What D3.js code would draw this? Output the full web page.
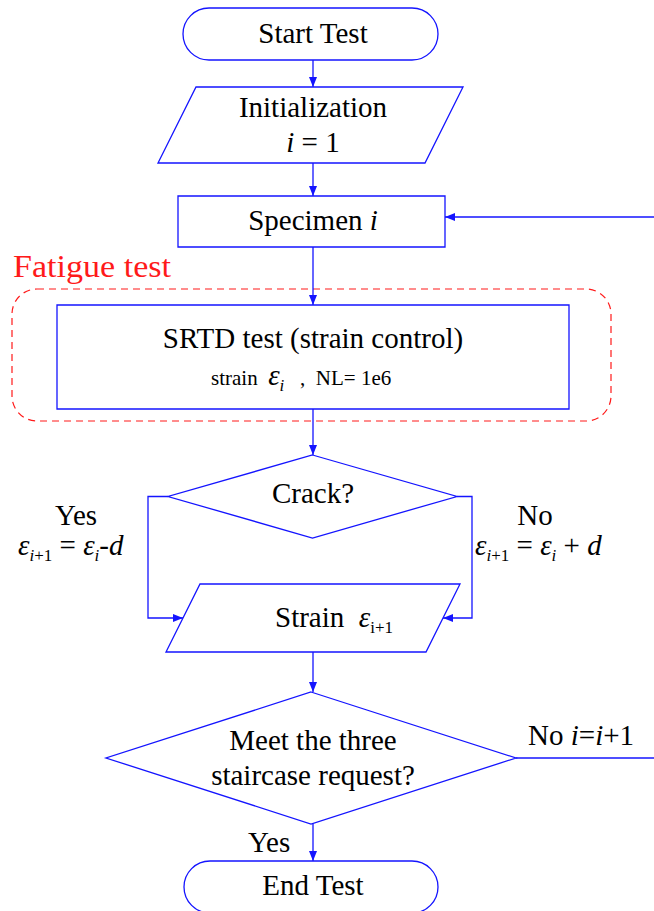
<!DOCTYPE html>
<html>
<head>
<meta charset="utf-8">
<script src="https://cdn.jsdelivr.net/npm/d3@7"></script>
<style>
  html, body { margin: 0; padding: 0; background: #fff; }
  svg { display: block; }
  svg text { font-family: 'Liberation Serif', 'Times New Roman', serif; fill: #000; white-space: pre; }
</style>
</head>
<body>
<svg id="chart" width="654" height="911"></svg>
<script>
//flowchart content
var nodeIds = ['start', 'init', 'specimen', 'srtd', 'crack', 'strain', 'meet', 'end'];
var nodeShapes = ['terminal', 'io', 'process', 'process', 'decision', 'io', 'decision', 'terminal'];
//each line is a list of text segments, it = italic, sub = subscript, small = smaller text
var nodeText = [
  [[{t: 'Start Test'}]],
  [[{t: 'Initialization'}], [{t: 'i', it: 1}, {t: ' = 1'}]],
  [[{t: 'Specimen '}, {t: 'i', it: 1}]],
  [[{t: 'SRTD test (strain control)'}], [{t: 'strain  ', small: 1}, {t: 'ε', it: 1}, {t: 'i', it: 1, sub: 1}, {t: '   ,  NL= 1e6', small: 1}]],
  [[{t: 'Crack?'}]],
  [[{t: 'Strain  '}, {t: 'ε', it: 1}, {t: 'i+1', sub: 1}]],
  [[{t: 'Meet the three'}], [{t: 'staircase request?'}]],
  [[{t: 'End Test'}]]
];
var edgeFrom = ['start', 'init', 'specimen', 'srtd', 'strain', 'meet'];
var edgeTo = ['init', 'specimen', 'srtd', 'crack', 'meet', 'end'];
var groupLabel = 'Fatigue test';
var branchLabels = [
  [{t: 'Yes'}],
  [{t: 'ε', it: 1}, {t: 'i', it: 1, sub: 1}, {t: '+1', sub: 1}, {t: ' = '}, {t: 'ε', it: 1}, {t: 'i', it: 1, sub: 1}, {t: '-'}, {t: 'd', it: 1}],
  [{t: 'No'}],
  [{t: 'ε', it: 1}, {t: 'i', it: 1, sub: 1}, {t: '+1', sub: 1}, {t: ' = '}, {t: 'ε', it: 1}, {t: 'i', it: 1, sub: 1}, {t: ' + '}, {t: 'd', it: 1}],
  [{t: 'No '}, {t: 'i', it: 1}, {t: '='}, {t: 'i', it: 1}, {t: '+1'}],
  [{t: 'Yes'}]
];

//layout (pixels)
var cx = 313;
var layout = {
  start:    {x0: 183, x1: 438, y0: 8, y1: 60, base: [43]},
  init:     {x0: 158, x1: 463, y0: 87, y1: 163, skew: 38, base: [117, 152]},
  specimen: {x0: 178, x1: 445, y0: 196, y1: 247, base: [230]},
  srtd:     {x0: 57, x1: 569, y0: 305, y1: 409, base: [348, 385]},
  crack:    {x0: 168, x1: 457, y0: 455, y1: 538, base: [503]},
  strain:   {x0: 166, x1: 460, y0: 584, y1: 652, skew: 34, base: [627], left: 275},
  meet:     {x0: 106, x1: 516, y0: 692, y1: 824, base: [750, 785]},
  end:      {x0: 184, x1: 438, y0: 861, y1: 913, base: [895]}
};
var blue = '#1414ff', red = '#ff1a1a';
var serif = "'Liberation Serif', 'Times New Roman', serif";
var fontMain = 29, fontSmall = 21, fontSub = 17;

var svg = d3.select('#chart');

svg.append('defs').append('marker')
  .attr('id', 'arrow')
  .attr('markerUnits', 'userSpaceOnUse')
  .attr('viewBox', '0 0 10 8')
  .attr('refX', 10).attr('refY', 4)
  .attr('markerWidth', 10).attr('markerHeight', 8)
  .attr('orient', 'auto')
  .append('path')
  .attr('d', 'M0,0L10,4L0,8Z')
  .attr('fill', blue);

var line = d3.line();

function shapePath(shape, b) {
  var p = d3.path();
  var midY = (b.y0 + b.y1) / 2;
  if (shape === 'terminal') {
    var r = (b.y1 - b.y0) / 2;
    p.moveTo(b.x0 + r, b.y0);
    p.lineTo(b.x1 - r, b.y0);
    p.arc(b.x1 - r, midY, r, -Math.PI / 2, Math.PI / 2);
    p.lineTo(b.x0 + r, b.y1);
    p.arc(b.x0 + r, midY, r, Math.PI / 2, Math.PI * 1.5);
    p.closePath();
  } else if (shape === 'io') {
    p.moveTo(b.x0 + b.skew, b.y0);
    p.lineTo(b.x1, b.y0);
    p.lineTo(b.x1 - b.skew, b.y1);
    p.lineTo(b.x0, b.y1);
    p.closePath();
  } else if (shape === 'decision') {
    var mx = (b.x0 + b.x1) / 2;
    p.moveTo(mx, b.y0);
    p.lineTo(b.x1, midY);
    p.lineTo(mx, b.y1);
    p.lineTo(b.x0, midY);
    p.closePath();
  } else {
    p.rect(b.x0, b.y0, b.x1 - b.x0, b.y1 - b.y0);
  }
  return p.toString();
}

//write a line of mixed text with italics and subscripts
function richText(sel, x, y, segs, anchor) {
  var txt = sel.append('text')
    .attr('x', x).attr('y', y)
    .attr('font-family', serif)
    .attr('text-anchor', anchor || 'middle')
    .attr('font-size', fontMain);
  var shift = 0;
  segs.forEach(function (s) {
    var want = s.sub ? 6 : 0;
    var ts = txt.append('tspan').text(s.t).attr('dy', want - shift);
    shift = want;
    if (s.it) ts.attr('font-style', 'italic');
    if (s.sub) ts.attr('font-size', fontSub);
    else if (s.small) ts.attr('font-size', fontSmall);
  });
  return txt;
}

//fatigue test group
svg.append('rect')
  .attr('x', 12).attr('y', 289)
  .attr('width', 599).attr('height', 132)
  .attr('rx', 25).attr('ry', 25)
  .attr('fill', 'none')
  .attr('stroke', red)
  .attr('stroke-width', 1.2)
  .attr('stroke-dasharray', '7,5');
svg.append('text')
  .attr('x', 13).attr('y', 277)
  .attr('font-family', serif)
  .attr('textLength', 158)
  .attr('lengthAdjust', 'spacingAndGlyphs')
  .attr('font-size', 31)
  .style('fill', red)
  .text(groupLabel);

//straight connectors between nodes
edgeFrom.forEach(function (f, i) {
  var a = layout[f], b = layout[edgeTo[i]];
  svg.append('path')
    .attr('d', line([[cx, a.y1], [cx, b.y0]]))
    .attr('stroke', blue).attr('stroke-width', 1.3).attr('fill', 'none')
    .attr('marker-end', 'url(#arrow)');
});

//branch connectors
var c = layout.crack, s = layout.strain, m = layout.meet, sp = layout.specimen;
var cMid = (c.y0 + c.y1) / 2, sMid = 618, mMid = (m.y0 + m.y1) / 2;
function edgeX(xTop, xBot, y) {
  return xTop + (xBot - xTop) * (y - s.y0) / (s.y1 - s.y0);
}
var branches = [
  {pts: [[c.x0, cMid], [148, cMid], [148, sMid], [edgeX(s.x0 + s.skew, s.x0, sMid), sMid]], arrow: true},
  {pts: [[c.x1, cMid], [472, cMid], [472, sMid], [edgeX(s.x1, s.x1 - s.skew, sMid), sMid]], arrow: true},
  {pts: [[m.x1, mMid], [654, mMid]], arrow: false},
  {pts: [[654, 217], [sp.x1, 217]], arrow: true}
];
branches.forEach(function (d) {
  svg.append('path')
    .attr('d', line(d.pts))
    .attr('stroke', blue).attr('stroke-width', 1.3).attr('fill', 'none')
    .attr('marker-end', d.arrow ? 'url(#arrow)' : null);
});

//nodes
var nodes = svg.selectAll('g.node')
  .data(nodeIds)
  .enter()
  .append('g')
  .attr('class', 'node');

nodes.append('path')
  .attr('d', function (d, i) { return shapePath(nodeShapes[i], layout[d]); })
  .attr('fill', '#fff')
  .attr('stroke', blue)
  .attr('stroke-width', 1.3);

nodes.each(function (d, i) {
  var g = d3.select(this), b = layout[d];
  nodeText[i].forEach(function (segs, j) {
    if (b.left) richText(g, b.left, b.base[j], segs, 'start');
    else if (j === 1 && d === 'srtd') richText(g, 211, b.base[j], segs, 'start');
    else richText(g, cx, b.base[j], segs, 'middle');
  });
});

//branch labels
var labelPos = [
  {x: 76, y: 525, anchor: 'middle'},
  {x: 18, y: 555, anchor: 'start'},
  {x: 535, y: 525, anchor: 'middle'},
  {x: 475, y: 555, anchor: 'start'},
  {x: 528, y: 745, anchor: 'start'},
  {x: 248, y: 852, anchor: 'start'}
];
branchLabels.forEach(function (segs, i) {
  var p = labelPos[i];
  richText(svg, p.x, p.y, segs, p.anchor);
});
</script>
</body>
</html>
